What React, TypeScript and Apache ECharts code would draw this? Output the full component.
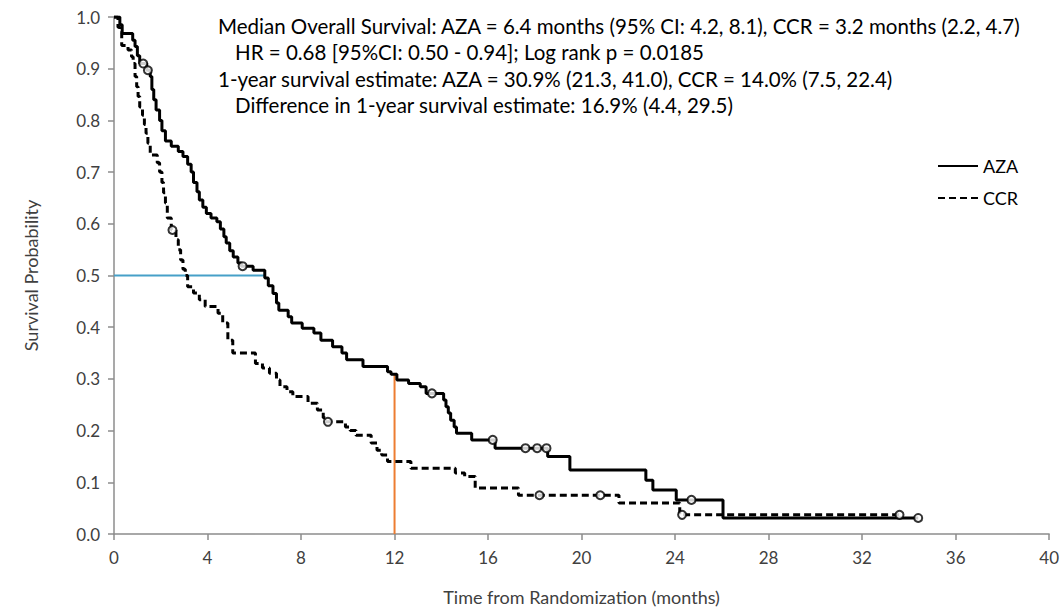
import React, { useEffect, useRef } from "react";
import * as echarts from "echarts";

// Kaplan-Meier steps: [time (months), survival after event]
const azaSteps: number[][] = [
  [0, 1.0], [0.25, 0.985], [0.35, 0.968], [0.8, 0.955], [0.9, 0.943], [1.0, 0.925],
  [1.1, 0.91], [1.4, 0.897], [1.55, 0.885], [1.62, 0.86], [1.7, 0.84], [1.8, 0.82],
  [1.95, 0.8], [2.05, 0.78], [2.2, 0.76], [2.45, 0.75], [2.75, 0.74], [2.95, 0.73],
  [3.15, 0.715], [3.3, 0.7], [3.4, 0.68], [3.55, 0.662], [3.65, 0.646], [3.8, 0.632],
  [3.95, 0.62], [4.15, 0.611], [4.4, 0.604], [4.55, 0.59], [4.7, 0.575], [4.8, 0.563],
  [4.95, 0.548], [5.1, 0.536], [5.3, 0.524], [5.45, 0.518], [5.95, 0.51], [6.45, 0.495],
  [6.6, 0.48], [6.8, 0.465], [6.95, 0.447], [7.05, 0.433], [7.45, 0.42], [7.6, 0.408],
  [8.05, 0.398], [8.55, 0.389], [8.85, 0.375], [9.35, 0.362], [9.75, 0.35], [9.95, 0.337],
  [10.65, 0.324], [11.7, 0.314], [11.85, 0.309], [12.1, 0.298], [12.6, 0.291], [13.1, 0.285],
  [13.35, 0.272], [14.1, 0.259], [14.2, 0.246], [14.3, 0.234], [14.4, 0.22], [14.55, 0.207],
  [14.65, 0.195], [15.3, 0.182], [16.3, 0.166], [18.55, 0.15], [19.5, 0.124], [22.75, 0.104],
  [23.05, 0.085], [24.05, 0.066], [26.05, 0.031], [34.4, 0.031],
];

const ccrSteps: number[][] = [
  [0, 1.0], [0.17, 0.98], [0.26, 0.97], [0.33, 0.945], [0.6, 0.936], [0.75, 0.923],
  [0.82, 0.91], [0.9, 0.885], [0.97, 0.865], [1.03, 0.846], [1.1, 0.826], [1.22, 0.81],
  [1.3, 0.792], [1.37, 0.775], [1.45, 0.756], [1.55, 0.733], [1.85, 0.718], [1.95, 0.7],
  [2.05, 0.68], [2.12, 0.66], [2.2, 0.64], [2.28, 0.611], [2.45, 0.588], [2.65, 0.569],
  [2.75, 0.55], [2.85, 0.53], [2.95, 0.512], [3.05, 0.5], [3.15, 0.478], [3.4, 0.466],
  [3.65, 0.453], [3.9, 0.44], [4.45, 0.427], [4.65, 0.408], [4.87, 0.375], [5.08, 0.35],
  [6.05, 0.33], [6.35, 0.321], [6.65, 0.311], [6.95, 0.298], [7.1, 0.285], [7.4, 0.275],
  [7.65, 0.266], [8.3, 0.253], [8.7, 0.24], [8.95, 0.225], [9.05, 0.217], [9.9, 0.207],
  [10.1, 0.2], [10.35, 0.191], [11.0, 0.176], [11.25, 0.162], [11.45, 0.153], [11.7, 0.14],
  [12.7, 0.127], [14.6, 0.118], [15.0, 0.111], [15.45, 0.089], [17.3, 0.075], [21.6, 0.06],
  [24.2, 0.037], [33.6, 0.037],
];

// Censoring marks
const azaCensored: number[][] = [
  [1.25, 0.91], [1.45, 0.897], [5.5, 0.518], [13.6, 0.272], [16.2, 0.182],
  [17.6, 0.166], [18.1, 0.166], [18.5, 0.166], [24.7, 0.066], [34.4, 0.031],
];
const ccrCensored: number[][] = [
  [2.5, 0.588], [9.15, 0.217], [18.2, 0.075], [20.8, 0.075], [24.3, 0.037], [33.6, 0.037],
];

// Reference lines
const medianLine: number[][] = [[0, 0.5], [6.45, 0.5]];
const oneYearLine: number[][] = [[12, 0], [12, 0.309]];

const seriesNames = ["AZA", "CCR"];
const annotationLines = [
  "Median Overall Survival: AZA = 6.4 months (95% CI: 4.2, 8.1), CCR = 3.2 months (2.2, 4.7)",
  "HR = 0.68 [95%CI: 0.50 - 0.94]; Log rank p = 0.0185",
  "1-year survival estimate: AZA = 30.9% (21.3, 41.0), CCR = 14.0% (7.5, 22.4)",
  "Difference in 1-year survival estimate: 16.9% (4.4, 29.5)",
];
const annotationIndent = [0, 1, 0, 1];

const FONT = "Lato, 'Noto Sans', sans-serif";

export default function App() {
  const ref = useRef<HTMLDivElement>(null);
  useEffect(() => {
    if (!ref.current) return;
    const chart = echarts.init(ref.current, undefined, { renderer: "svg" });
    const censorStyle = {
      color: "#ffffff",
      borderColor: "#000000",
      borderWidth: 2,
    };
    chart.setOption({
      animation: false,
      backgroundColor: "#ffffff",
      textStyle: { fontFamily: FONT },
      grid: { left: 114, right: 12, top: 17, bottom: 77 },
      legend: {
        data: seriesNames,
        orient: "vertical",
        left: 932,
        top: 152,
        itemWidth: 40,
        itemHeight: 10,
        itemGap: 14,
        itemStyle: { opacity: 0 },
        textStyle: { fontSize: 18, color: "#000", fontFamily: FONT },
      },
      xAxis: {
        type: "value",
        min: 0,
        max: 40,
        interval: 4,
        name: "Time from Randomization (months)",
        nameLocation: "middle",
        nameGap: 54,
        nameTextStyle: { fontSize: 18, color: "#404040", fontFamily: FONT },
        axisLine: { lineStyle: { color: "#8c8c8c", width: 1.5 } },
        axisTick: { show: true, length: 6, lineStyle: { color: "#8c8c8c", width: 1.5 } },
        axisLabel: { fontSize: 17, color: "#404040", margin: 15, fontFamily: FONT },
        splitLine: { show: false },
      },
      yAxis: {
        type: "value",
        min: 0,
        max: 1,
        interval: 0.1,
        name: "Survival Probability",
        nameLocation: "middle",
        nameRotate: 90,
        nameGap: 74,
        nameTextStyle: { fontSize: 18, color: "#404040", fontFamily: FONT },
        axisLine: { show: true, lineStyle: { color: "#8c8c8c", width: 1.5 } },
        axisTick: { show: true, length: 6, lineStyle: { color: "#8c8c8c", width: 1.5 } },
        axisLabel: {
          fontSize: 17,
          color: "#404040",
          margin: 14,
          fontFamily: FONT,
          formatter: (v: number) => v.toFixed(1),
        },
        splitLine: { show: false },
      },
      graphic: annotationLines.map((t, i) => ({
        type: "text",
        left: 218 + annotationIndent[i] * 17,
        top: 15 + i * 26.5,
        style: { text: t, fontSize: 20.5, fill: "#000", fontFamily: FONT },
      })),
      series: [
        {
          name: "median",
          type: "line",
          data: medianLine,
          symbol: "none",
          lineStyle: { color: "#46a0c8", width: 2 },
          z: 1,
        },
        {
          name: "oneyear",
          type: "line",
          data: oneYearLine,
          symbol: "none",
          lineStyle: { color: "#ed7d31", width: 2 },
          z: 1,
        },
        {
          name: "AZA",
          type: "line",
          step: "end",
          data: azaSteps,
          symbol: "none",
          lineStyle: { color: "#000", width: 3 },
          itemStyle: { color: "#000" },
          z: 3,
        },
        {
          name: "CCR",
          type: "line",
          step: "end",
          data: ccrSteps,
          symbol: "none",
          lineStyle: { color: "#000", width: 3, type: [7, 4] },
          itemStyle: { color: "#000" },
          z: 3,
        },
        {
          name: "AZA censored",
          type: "scatter",
          data: azaCensored,
          symbol: "circle",
          symbolSize: 8,
          itemStyle: censorStyle,
          z: 4,
        },
        {
          name: "CCR censored",
          type: "scatter",
          data: ccrCensored,
          symbol: "circle",
          symbolSize: 8,
          itemStyle: censorStyle,
          z: 4,
        },
      ],
    });
    return () => chart.dispose();
  }, []);
  return (
    <div
      ref={ref}
      style={{ position: "fixed", left: 0, top: 0, width: 1062, height: 611, background: "#fff" }}
    />
  );
}
